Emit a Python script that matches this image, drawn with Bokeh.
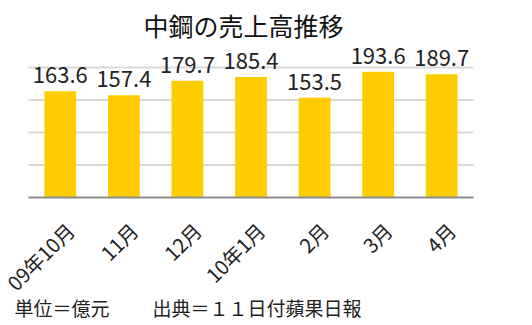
import math
from bokeh.plotting import figure
from bokeh.models import ColumnDataSource, Range1d
from bokeh.core.properties import value
from bokeh.embed import file_html
from bokeh.resources import INLINE

categories = ["09年10月", "11月", "12月", "10年1月", "2月", "3月", "4月"]
sales = [163.6, 157.4, 179.7, 185.4, 153.5, 193.6, 189.7]
labels = ["163.6", "157.4", "179.7", "185.4", "153.5", "193.6", "189.7"]
grid_ticks = [50, 100, 150, 200]
title_text = "中鋼の売上高推移"
unit_text = "単位＝億元"
source_text = "出典＝１１日付蘋果日報"

FONT = "Noto Sans CJK JP"
W, H = 532, 325

# Plot-area geometry (pixels) used to place the data ranges
AREA_LEFT, AREA_RIGHT = 28, 473
BASE_Y, TOP_Y = 197, 67          # pixel rows of value 0 and of the top grid value
n = len(categories)
px_per_cat = (AREA_RIGHT - AREA_LEFT) / n
px_per_unit = (BASE_Y - TOP_Y) / max(grid_ticks)

x0 = -0.5 - AREA_LEFT / px_per_cat
y0 = -(H - BASE_Y) / px_per_unit

def dx(px):
    return x0 + px / px_per_cat

def dy(py):
    return y0 + (H - py) / px_per_unit

p = figure(width=W, height=H, output_backend="svg", toolbar_location=None,
           x_range=Range1d(x0, x0 + W / px_per_cat),
           y_range=Range1d(y0, y0 + H / px_per_unit),
           x_axis_location=None, y_axis_location=None,
           min_border=0)
p.outline_line_color = None
p.grid.visible = False
p.background_fill_color = "white"
p.border_fill_color = "white"

xs = list(range(n))
src = ColumnDataSource(dict(x=xs, val=sales, lab=labels, cat=categories,
                            tx=[x + 10 / px_per_cat for x in xs], zero=[0] * n))

# grid lines
p.segment(x0=-0.5, x1=n - 0.5, y0=grid_ticks, y1=grid_ticks,
          line_color="#d9d9d9", line_width=2)

# bars
p.vbar(x="x", top="val", width=0.5, source=src, color="#FFCC00", line_color=None)

# baseline axis
p.segment(x0=-0.5, x1=n - 0.5, y0=0, y1=0, line_color="#8c8c8c", line_width=2)

# value labels
p.text(x="x", y="val", text="lab", source=src, text_align="center",
       text_baseline="bottom", y_offset=-8, text_font=value(FONT),
       text_font_size="22px", text_color="#222222")

# category labels (rotated)
p.text(x="tx", y="zero", text="cat", source=src, angle=math.pi / 4,
       text_align="right", text_baseline="middle", y_offset=29,
       text_font=value(FONT), text_font_size="20px", text_color="#222222")

# title
p.text(x=[dx(243)], y=[dy(24)], text=[title_text], text_align="center",
       text_baseline="middle", text_font=value(FONT), text_font_size="25px",
       text_color="#111111")

# footer notes
p.text(x=[dx(14)], y=[dy(307)], text=[unit_text], text_align="left",
       text_baseline="middle", text_font=value(FONT), text_font_size="19px",
       text_color="#222222")
p.text(x=[dx(152)], y=[dy(307)], text=[source_text], text_align="left",
       text_baseline="middle", text_font=value(FONT), text_font_size="19px",
       text_color="#222222")

open("out.html", "w").write(file_html(p, INLINE))
